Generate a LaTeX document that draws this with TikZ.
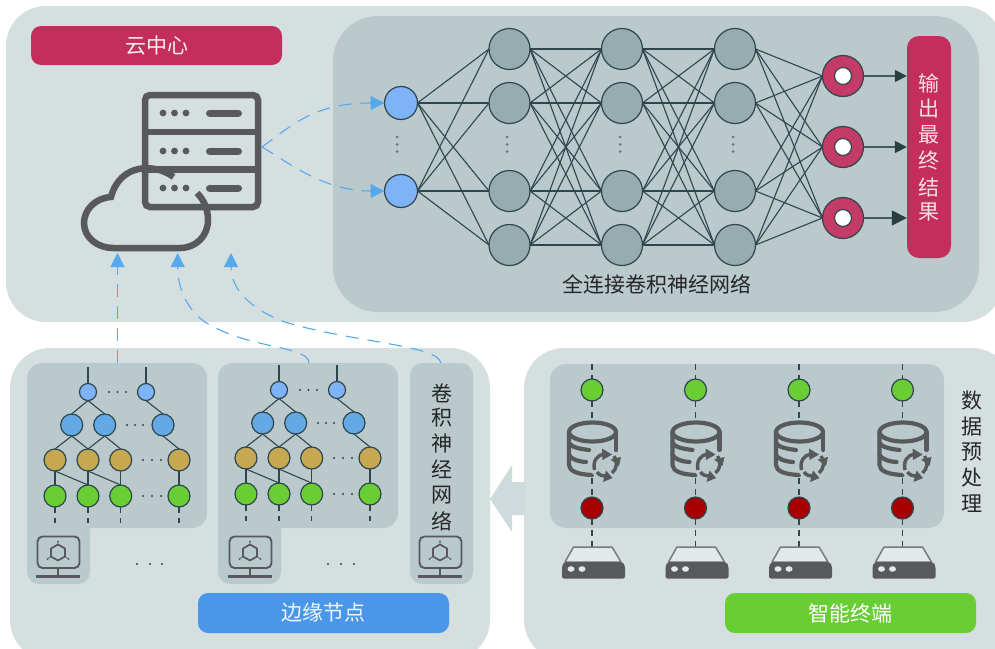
\documentclass[tikz,border=0pt]{standalone}
\usepackage{fontspec}
\setmainfont{Noto Sans CJK SC}
\usetikzlibrary{arrows.meta,calc}
\definecolor{panelC}{HTML}{D5DFE0}
\definecolor{innerC}{HTML}{B9C9CC}
\definecolor{lineC}{HTML}{2F464C}
\definecolor{iconC}{HTML}{58595B}
\definecolor{blueA}{HTML}{55A9EC}
\definecolor{crim}{HTML}{C42E5C}
\definecolor{crimN}{HTML}{C43B68}
\definecolor{nnblue}{HTML}{7FB3F8}
\definecolor{nngrey}{HTML}{96ACB0}
\definecolor{treeblue}{HTML}{63A9E6}
\definecolor{treegold}{HTML}{C7A852}
\definecolor{treegreen}{HTML}{69CD34}
\definecolor{darkred}{HTML}{A80000}
\definecolor{arrowC}{HTML}{CEDADC}
\definecolor{edgeblue}{HTML}{4A97EA}
\tikzset{
  x=1pt,y=-1pt,
  circ/.style={circle,draw=lineC,line width=1.2pt,inner sep=0pt,outer sep=0pt},
  inN/.style={circ,fill=nnblue,minimum size=33pt},
  hidN/.style={circ,fill=nngrey,minimum size=41pt},
  outN/.style={circ,fill=crimN,minimum size=41pt},
  hole/.style={circ,fill=white,minimum size=17pt},
  t1/.style={circ,fill=nnblue,minimum size=17pt},
  t2/.style={circ,fill=treeblue,minimum size=22pt},
  t3/.style={circ,fill=treegold,minimum size=22pt},
  t4/.style={circ,fill=treegreen,minimum size=22pt},
  wire/.style={draw=lineC,line width=1.1pt},
  dline/.style={draw=lineC,line width=1.1pt,dash pattern=on 6pt off 5pt},
  cloudarrow/.style={draw=blueA,line width=1.1pt,dash pattern=on 13pt off 9pt,-{Triangle[length=14pt,width=14pt]}},
  lab/.style={inner sep=0pt,font=\fontsize{20}{20}\selectfont},
  icon/.style={draw=iconC,line cap=round,line join=round},
}
\newcommand{\hdots}[4]{% x1 x2 x3 y
  \foreach \q in {#1,#2,#3}{\fill[lineC] (\q,#4) circle (1.2pt);}}
\newcommand{\treeblock}[3]{%
\begin{scope}[shift={(#2,#3)}]
  \node[t1] (#1a1) at (88,392) {};
  \node[t1] (#1a2) at (146,392) {};
  \node[t2] (#1b1) at (71.7,425) {};
  \node[t2] (#1b2) at (104.7,425) {};
  \node[t2] (#1b3) at (163,425) {};
  \foreach \n/\X in {1/55,2/88,3/120.7,4/179}{
    \node[t3] (#1c\n) at (\X,460) {};
    \node[t4] (#1d\n) at (\X,496) {};
    \coordinate (#1e\n) at (\X,523);
    \draw[dline] (#1d\n.south) -- (#1e\n);
    \draw[wire] (#1c\n.south) -- (#1d\n.north);
  }
  \coordinate (#1t1) at (88,367);
  \coordinate (#1t2) at (146,367);
  \draw[wire] (#1t1) -- (#1a1.north);
  \draw[wire] (#1t2) -- (#1a2.north);
  \foreach \p/\r in {a1/b1,a1/b2,a2/b3,b1/c1,b1/c2,b2/c2,b2/c3,b3/c4,c1/d2,c2/d3}
    \draw[wire] (#1\p.south) -- (#1\r.north);
  \hdots{109}{117.5}{126}{392}
  \hdots{127}{135}{143}{425}
  \hdots{143}{152}{161}{460}
  \hdots{143}{152}{161}{496}
\end{scope}}
\newcommand{\monitor}[1]{%
\begin{scope}[shift={(#1,0)}]
  \draw[draw=iconC,line width=1.9pt,rounded corners=5pt] (37.5,536.5) rectangle (79.5,568);
  \draw[draw=iconC,line width=2pt] (58,568) -- (58,576);
  \draw[draw=iconC,line width=2.4pt] (36,576.5) -- (80,576.5);
  \draw[draw=iconC,line width=1.7pt,line join=round] (58,544.5) -- (65,548.5) -- (65,556.5) -- (58,560.5) -- (51,556.5) -- (51,548.5) -- cycle;
  \draw[draw=iconC,line width=0.8pt] (58,544.5) -- (58,541.5) (65,556.5) -- (68,558.5) (51,556.5) -- (48,558.5);
  \fill[iconC] (58,541.5) circle (1pt) (68.5,559) circle (1pt) (47.5,559) circle (1pt);
\end{scope}}
\newcommand{\dbcol}[2]{%
\begin{scope}[shift={(#2,0)}]
  \node[circ,fill=treegreen,minimum size=22pt] (#1g) at (592,390) {};
  \node[circ,fill=darkred,minimum size=22pt] (#1r) at (592,508) {};
  \coordinate (#1top) at (592,364);
  \coordinate (#1dev) at (592,547);
  \draw[dline] (#1top) -- (#1g.north);
  \draw[dline] (#1g.south) -- (#1r.north);
  \draw[dline] (#1r.south) -- (#1dev);
  % cylinder
  \fill[innerC] (566,424) rectangle (619,476);
  \draw[icon,line width=4.2pt] (592.5,432) ellipse (23.5pt and 9.5pt);
  \draw[icon,line width=4.2pt] (569,432) -- (569,465) .. controls (569,471) and (578,474.5) .. (592,475);
  \draw[icon,line width=4.2pt] (616,432) -- (616,450);
  \draw[icon,line width=4.2pt] (569,443) .. controls (571,447) and (580,449) .. (589,450);
  \draw[icon,line width=4.2pt] (569,455) .. controls (571,459) and (578,461.5) .. (586,462);
  % recycle arrows
  \fill[innerC] (605,465) circle (15pt);
  \draw[iconC,line width=3.4pt] (594.5,470) .. controls (592.5,461) and (597,455) .. (604,454);
  \fill[iconC] (602,448.5) -- (612,454.5) -- (602.5,460) -- cycle;
  \draw[iconC,line width=3.4pt] (614,456) .. controls (618,461) and (617,469) .. (612,473);
  \fill[iconC] (621,457) -- (610.5,459.5) -- (619,466) -- cycle;
  \draw[iconC,line width=3.4pt] (606,476) .. controls (602,476) and (599,475) .. (597,472);
  \fill[iconC] (603,482) -- (606,470.5) -- (612.5,478) -- cycle;
  % device
  \draw[draw=iconC!80!white,line width=1.5pt,fill=panelC!70!white,line join=round] (573.5,547) -- (612,547) -- (621,562) -- (565,562) -- cycle;
  \fill[iconC,rounded corners=2pt] (564,562) -- (623,562) -- (625,566) -- (625,578.5) -- (562,578.5) -- (562,566) -- cycle;
  \fill[panelC!70!white] (571,569) ellipse (3.5pt and 2.8pt) (582,569) ellipse (3.5pt and 2.8pt);
\end{scope}}
\begin{document}
\begin{tikzpicture}
\useasboundingbox (0,0) rectangle (995,648);
\clip (0,0) rectangle (995,648);
% panels
\fill[panelC,rounded corners=40pt] (6,6) rectangle (1003,322);
\fill[innerC,rounded corners=45pt] (333,16) rectangle (979,312);
\fill[panelC,rounded corners=40pt] (10,348) rectangle (490,660);
\fill[panelC,rounded corners=40pt] (524,348) rectangle (1012,660);
% big arrow
\fill[arrowC] (490,499) -- (512,465) -- (512,482) -- (525,482) -- (525,515) -- (512,515) -- (512,532) -- cycle;
% crimson label
\node[fill=crim,rounded corners=10pt,minimum width=251pt,minimum height=39pt,inner sep=0pt,text=white!92!crim,font=\fontsize{21}{21}\selectfont] (cloudlabel) at (156.5,45.5) {云中心};
% server
\draw[draw=iconC,line width=6.5pt,rounded corners=5pt] (145,95) rectangle (258,207);
\draw[draw=iconC,line width=6.5pt] (145,132) -- (258,132);
\draw[draw=iconC,line width=6.5pt] (145,169.5) -- (258,169.5);
\foreach \yy in {113,151,188}{
  \fill[iconC] (163,\yy) circle (3.4pt) (174.5,\yy) circle (3.4pt) (186,\yy) circle (3.4pt);
  \draw[draw=iconC,line width=7pt,line cap=round] (209.5,\yy) -- (238.5,\yy);
}
% cloud
\draw[draw=iconC,line width=6.5pt] (173.5,177) .. controls (155,163) and (120,163) .. (111,197)
  .. controls (95,198) and (84,210) .. (84,223) .. controls (84,238) and (98,248) .. (113,248)
  -- (180,248) .. controls (196,248) and (208,236) .. (208,220) .. controls (208,209) and (204,200) .. (197,193);
% network
\node[inN] (i1) at (401,103) {};
\node[inN] (i2) at (401,191) {};
\foreach \c/\X in {a/509.5,b/622,c/735}{
  \foreach \r/\Y in {1/49,2/103,3/191,4/245}{
    \node[hidN] (\c\r) at (\X,\Y) {};
  }
}
\node[outN] (o1) at (843,76) {};
\node[outN] (o2) at (843,147) {};
\node[outN] (o3) at (843,218) {};
\foreach \r in {1,2,3}{\node[hole] (h\r) at (o\r) {};}
\foreach \s in {1,2}{\foreach \e in {1,2,3,4}{\draw[wire] (i\s.east) -- (a\e.west);}}
\foreach \s in {1,2,3,4}{\foreach \e in {1,2,3,4}{
  \draw[wire] (a\s.east) -- (b\e.west);
  \draw[wire] (b\s.east) -- (c\e.west);}}
\foreach \s in {1,2,3,4}{\foreach \e in {1,2,3}{\draw[wire] (c\s.east) -- (o\e.west);}}
\foreach \X in {397,507,620,733}{
  \foreach \Y in {137,144.5,151.5}{\fill[lineC!60!innerC] (\X,\Y) circle (1.5pt);}}
\node[fill=crim,rounded corners=12pt,minimum width=44pt,minimum height=222pt,inner sep=0pt] (result) at (929,147) {};
\foreach \ch/\Y in {输/83,出/109,最/135,终/160,结/187,果/212}{
  \node[lab,text=white!85!crim,font=\fontsize{21}{21}\selectfont] at (929,\Y) {\ch};}
\draw[draw=lineC!85!innerC,line width=1.5pt,-{Triangle[length=12pt,width=12pt,color=lineC!90!black]}] (o1.east) -- (result.west |- o1);
\draw[draw=lineC!85!innerC,line width=1.5pt,-{Triangle[length=12pt,width=12pt,color=lineC!90!black]}] (o2.east) -- (result.west |- o2);
\draw[draw=lineC!85!innerC,line width=1.5pt,-{Triangle[length=15pt,width=15pt,color=lineC!90!black]}] (o3.east) -- (result.west |- o3);
\node[text=black!85,inner sep=0pt,font=\fontsize{21}{21}\selectfont] (nnlabel) at (656.5,284) {全连接卷积神经网络};
% blue dashed from server to inputs
\coordinate (srv) at (262,147);
\draw[cloudarrow] (srv) .. controls (292,125) and (315,103) .. (i1.west);
\draw[cloudarrow] (srv) .. controls (292,165) and (325,191) .. (i2.west);
% sub panels
\fill[innerC,rounded corners=15pt] (27,363) rectangle (207,528);
\fill[innerC,rounded corners=12pt] (27,490) rectangle (90,584);
\fill[innerC,rounded corners=15pt] (218,363) rectangle (398,528);
\fill[innerC,rounded corners=12pt] (218,490) rectangle (281,584);
\fill[innerC,rounded corners=12pt] (410,363) rectangle (473,584);
\treeblock{A}{0}{0}
\treeblock{B}{191}{-2}
\monitor{0}
\monitor{192}
\monitor{382}
\hdots{137}{150}{162}{564}
\hdots{328}{341}{354}{564}
\foreach \ch/\Y in {卷/393,积/418,神/444,经/469,网/495,络/521}{
  \node[lab,text=black!85,font=\fontsize{21}{21}\selectfont] at (441.5,\Y) {\ch};}
% blue dashed to cloud
\coordinate (c1) at (117.5,253);
\coordinate (c2) at (177.7,253);
\coordinate (c3) at (231,253);
\coordinate (s1) at (117.5,363);
\coordinate (s2) at (309,363);
\coordinate (s3) at (441,363);
\draw[cloudarrow] (s1) -- (c1);
\draw[cloudarrow] (s2) .. controls (308,345) and (250,350) .. (205,322) .. controls (188,310) and (177.7,290) .. (c2);
\draw[cloudarrow] (s3) .. controls (438,345) and (350,342) .. (285,322) .. controls (252,310) and (231,290) .. (c3);
% labels
\node[fill=edgeblue,rounded corners=10pt,minimum width=251pt,minimum height=40pt,inner sep=0pt,text=white!92!edgeblue,font=\fontsize{21}{21}\selectfont] (edgelabel) at (323.5,613) {边缘节点};
\node[fill=treegreen,rounded corners=10pt,minimum width=251pt,minimum height=40pt,inner sep=0pt,text=white,font=\fontsize{21}{21}\selectfont] (termlabel) at (850.5,613) {智能终端};
% right side
\fill[innerC,rounded corners=16pt] (550,364) rectangle (944,528);
\dbcol{P}{0}
\dbcol{Q}{103.5}
\dbcol{R}{207}
\dbcol{S}{310.5}
\foreach \ch/\Y in {数/401,据/427,预/452,处/478,理/504}{
  \node[lab,text=black!85,font=\fontsize{21}{21}\selectfont] at (971.5,\Y) {\ch};}
\end{tikzpicture}
\end{document}
